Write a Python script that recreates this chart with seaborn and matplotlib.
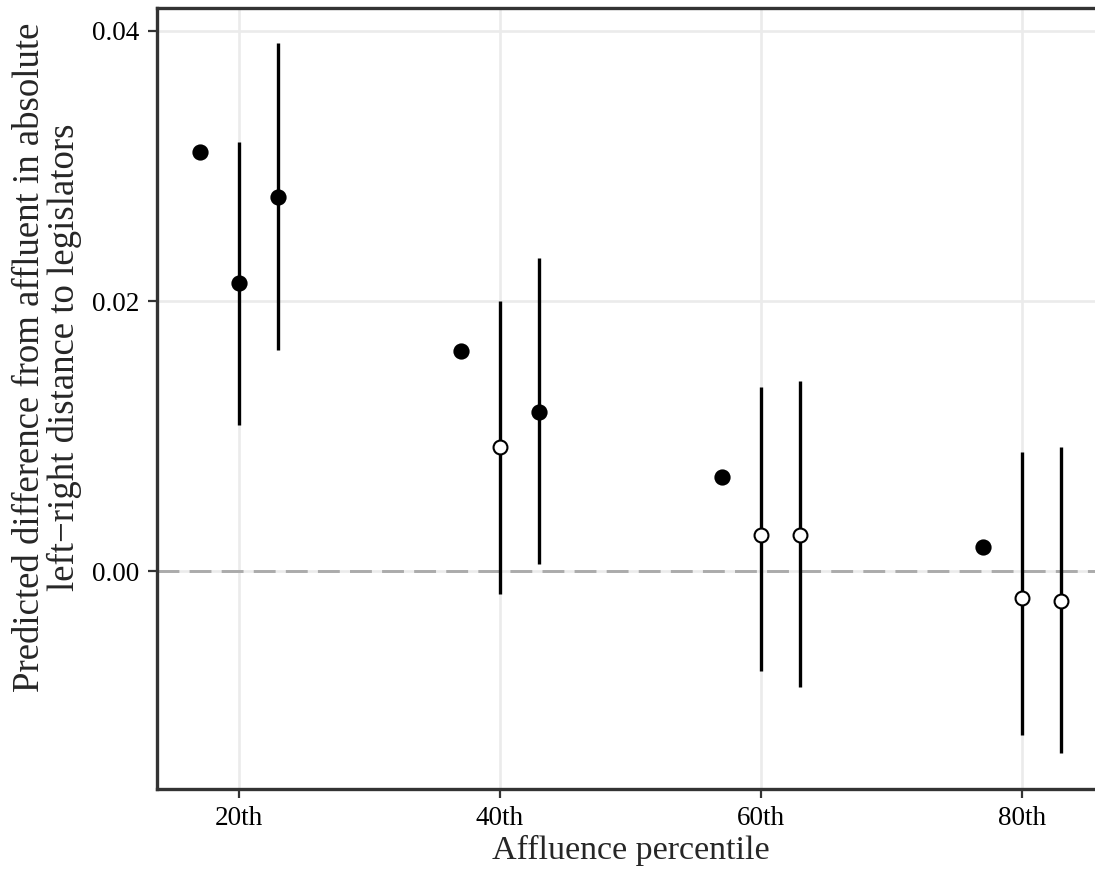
import numpy as np
import pandas as pd
import matplotlib
matplotlib.use("Agg")
import matplotlib.pyplot as plt
import seaborn as sns

# ---- data ----
percentile_ticks = [20, 40, 60, 80]
tick_labels = ["20th", "40th", "60th", "80th"]
x_pos = [17, 20, 23, 37, 40, 43, 57, 60, 63, 77, 80, 83]
estimate = [0.0310, 0.0213, 0.0277, 0.0163, 0.0092, 0.0118,
            0.0070, 0.0027, 0.0027, 0.00175, -0.0020, -0.0022]
ci_low = [np.nan, 0.0108, 0.0164, np.nan, -0.0017, 0.0005,
          np.nan, -0.0074, -0.0086, np.nan, -0.0121, -0.0135]
ci_high = [np.nan, 0.0318, 0.0391, np.nan, 0.0200, 0.0232,
           np.nan, 0.0136, 0.0141, np.nan, 0.0088, 0.0092]
significant = [True, True, True, True, False, True,
               True, False, False, True, False, False]

df = pd.DataFrame({"x": x_pos, "est": estimate, "lo": ci_low,
                   "hi": ci_high, "sig": significant})

sns.set_style("white")
plt.rcParams["font.family"] = ["Liberation Serif", "DejaVu Serif"]

W, H = 1095, 873
fig = plt.figure(figsize=(W / 100, H / 100), dpi=100)
left_px, right_px, top_px, bottom_px = 157, 1104, 7.5, 789
ax = fig.add_axes([left_px / W, 1 - bottom_px / H,
                   (right_px - left_px) / W, (bottom_px - top_px) / H])

# grid
ax.set_axisbelow(True)
ax.grid(True, color="#ebebeb", linewidth=1.9)

# zero reference line
ax.axhline(0, color="#ababab", linewidth=2.1, linestyle=(0, (7.5, 3.5)), zorder=1)

# confidence intervals
ci = df.dropna(subset=["lo", "hi"])
ax.vlines(ci["x"], ci["lo"], ci["hi"], color="black", linewidth=2.4, zorder=2)

# points
sns.scatterplot(data=df[df["sig"]], x="x", y="est", ax=ax, s=110,
                color="black", edgecolor="black", linewidth=1.2, zorder=3, legend=False)
sns.scatterplot(data=df[~df["sig"]], x="x", y="est", ax=ax, s=100,
                color="white", edgecolor="black", linewidth=1.5, zorder=3, legend=False)

# limits with ggplot-like 5% expansion
xmin, xmax = df["x"].min(), df["x"].max()
xr = xmax - xmin
ax.set_xlim(xmin - 0.05 * xr, xmax + 0.05 * xr)
yall = np.concatenate([df["est"].values, df["lo"].dropna().values, df["hi"].dropna().values])
ymin, ymax = yall.min(), yall.max()
yr = ymax - ymin
ax.set_ylim(ymin - 0.05 * yr, ymax + 0.05 * yr)

ax.set_xticks(percentile_ticks)
ax.set_xticklabels(tick_labels)
ax.set_yticks([0.0, 0.02, 0.04])
ax.set_yticklabels(["0.00", "0.02", "0.04"])

for s in ax.spines.values():
    s.set_color("#333333")
    s.set_linewidth(2.4)

ax.tick_params(axis="both", which="major", direction="out", length=6.5, width=1.6,
               color="#333333", labelsize=19.5, labelcolor="black",
               bottom=True, left=True)
ax.tick_params(axis="x", pad=6)
ax.tick_params(axis="y", pad=6)

ax.set_xlabel("Affluence percentile", fontsize=24.5, labelpad=2.5)
ax.set_ylabel("Predicted difference from affluent in absolute\nleft\u2212right distance to legislators",
              fontsize=26.5, linespacing=1.0)
ax.yaxis.set_label_coords((82 - left_px) / (right_px - left_px),
                          (bottom_px - 357) / (bottom_px - top_px))

fig.savefig("out.png", dpi=100)
